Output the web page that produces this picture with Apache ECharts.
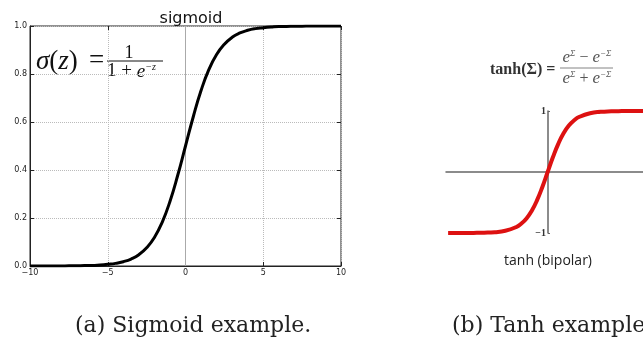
<!DOCTYPE html>
<html><head><meta charset="utf-8">
<script src="https://cdn.jsdelivr.net/npm/echarts@6/dist/echarts.min.js"></script>
<style>html,body{margin:0;padding:0;background:#fff}#c{width:643px;height:343px}</style>
</head><body><div id="c"></div>
<script>
// Sigmoid curve points
const sigX = [-10,-9.5,-9,-8.5,-8,-7.5,-7,-6.5,-6,-5.5,-5,-4.5,-4,-3.5,-3,-2.5,-2,-1.5,-1,-0.5,0,0.5,1,1.5,2,2.5,3,3.5,4,4.5,5,5.5,6,6.5,7,7.5,8,8.5,9,9.5,10];
const sigY = [0.000,0.000,0.000,0.000,0.000,0.001,0.001,0.002,0.002,0.004,0.007,0.011,0.018,0.029,0.047,0.076,0.119,0.182,0.269,0.378,0.500,0.622,0.731,0.818,0.881,0.924,0.953,0.971,0.982,0.989,0.993,0.996,0.998,0.998,0.999,0.999,1.000,1.000,1.000,1.000,1.000];
const sigXTicks = [-10,-5,0,5,10];
const sigYTicks = [0.0,0.2,0.4,0.6,0.8,1.0];
// Tanh curve points
const tanhX = [-4.7,-4.5,-4,-3.5,-3,-2.5,-2,-1.5,-1.25,-1,-0.75,-0.5,-0.25,0,0.25,0.5,0.75,1,1.25,1.5,2,2.5,3,3.5,4,4.5];
const tanhY = [-1.000,-1.000,-0.999,-0.998,-0.995,-0.987,-0.964,-0.905,-0.848,-0.762,-0.635,-0.462,-0.245,0,0.245,0.462,0.635,0.762,0.848,0.905,0.964,0.987,0.995,0.998,0.999,1.000];
const tanhYTicks = [-1,1];

const chart = echarts.init(document.getElementById('c'), null, {renderer:'canvas'});
const minus = v => String(v).replace('-', '\u2212');
const tickStyle = {show:true, inside:true, length:4, lineStyle:{color:'#222', width:1}};
const supRich = (size, sup, color) => ({
  e:{font:'italic ' + size + 'px "Liberation Serif"', fill:color, lineHeight:size},
  s:{font:'italic ' + sup + 'px "Liberation Serif"', fill:color, verticalAlign:'top', lineHeight:sup}
});
const option = {
  animation:false,
  backgroundColor:'#fff',
  title:{text:'sigmoid', left:186, top:6, textAlign:'center',
    textStyle:{fontFamily:'DejaVu Sans', fontSize:16, fontWeight:'normal', color:'#111'}},
  grid:[
    {left:30, top:26, width:311, height:240, show:true, borderColor:'#222', borderWidth:1, backgroundColor:'transparent', outerBoundsMode:'none'},
    {left:446, top:111, width:197, height:122, outerBoundsMode:'none'}
  ],
  xAxis:[
    {type:'value', gridIndex:0, min:-10, max:10, interval:5,
     axisLine:{show:true, onZero:false, lineStyle:{color:'#222'}}, axisTick:tickStyle,
     axisLabel:{fontSize:8, fontFamily:'DejaVu Sans', color:'#222', margin:3, formatter:minus, showMinLabel:true, showMaxLabel:true},
     splitLine:{show:true, lineStyle:{type:'dotted', color:'#bbb', width:1}}},
    {type:'value', gridIndex:0, position:'top', min:-10, max:10, interval:5,
     axisLine:{show:false, onZero:false}, axisTick:tickStyle, axisLabel:{show:false}, splitLine:{show:false}},
    {type:'value', gridIndex:1, min:-4.8, max:4.5,
     axisLine:{show:true, onZero:true, lineStyle:{color:'#666', width:1.5}},
     axisTick:{show:false}, axisLabel:{show:false}, splitLine:{show:false}}
  ],
  yAxis:[
    {type:'value', gridIndex:0, min:0, max:1, interval:0.2,
     axisLine:{show:true, onZero:false, lineStyle:{color:'#222'}}, axisTick:tickStyle,
     axisLabel:{fontSize:8, fontFamily:'DejaVu Sans', color:'#222', margin:3, formatter:v=>v.toFixed(1)},
     splitLine:{show:true, lineStyle:{type:'dotted', color:'#bbb', width:1}}},
    {type:'value', gridIndex:0, position:'right', min:0, max:1, interval:0.2,
     axisLine:{show:false, onZero:false}, axisTick:tickStyle, axisLabel:{show:false}, splitLine:{show:false}},
    {type:'value', gridIndex:1, min:-1, max:1, position:'left', offset:-102,
     axisLine:{show:true, onZero:false, lineStyle:{color:'#666', width:1.5}},
     axisTick:{show:true, inside:true, length:2, customValues:tanhYTicks, lineStyle:{color:'#666'}},
     axisLabel:{show:true, customValues:tanhYTicks, fontSize:10, fontFamily:'Liberation Serif', fontWeight:'bold', color:'#333', margin:2,
       formatter:v=>minus(v)},
     splitLine:{show:false}}
  ],
  series:[
    {type:'line', xAxisIndex:0, yAxisIndex:0, data:sigX.map((x,i)=>[x,sigY[i]]), smooth:true, showSymbol:false,
     lineStyle:{color:'#000', width:3}, z:3,
     markLine:{silent:true, symbol:'none', label:{show:false}, lineStyle:{color:'#aaa', type:'solid', width:1}, data:[{xAxis:0}], z:1}},
    {type:'line', xAxisIndex:2, yAxisIndex:2, data:tanhX.map((x,i)=>[x,tanhY[i]]), smooth:true, showSymbol:false,
     lineStyle:{color:'#dd1111', width:4}, z:3}
  ],
  graphic:[
    // sigmoid formula
    {type:'text', x:36, y:62, style:{text:'{i|\u03c3}({i|z})', font:'27px "Liberation Serif"', fill:'#111', verticalAlign:'middle',
      rich:{i:{font:'italic 27px "Liberation Serif"', fill:'#111'}}}},
    {type:'text', x:89, y:61, style:{text:'=', font:'27px "Liberation Serif"', fill:'#111', verticalAlign:'middle'}},
    {type:'text', x:129, y:53, style:{text:'1', font:'18px "Liberation Serif"', fill:'#111', align:'center', verticalAlign:'middle'}},
    {type:'line', shape:{x1:107, y1:61, x2:163, y2:61}, style:{stroke:'#111', lineWidth:1}},
    {type:'text', x:107, y:62, style:{text:'1 + {e|e}{s|\u2212z}', font:'19px "Liberation Serif"', fill:'#111', lineHeight:18,
      rich:supRich(19, 10, '#111')}},
    // tanh formula
    {type:'text', x:490, y:70, style:{text:'tanh(\u03a3) =', font:'bold 16px "Liberation Serif"', fill:'#333', verticalAlign:'middle'}},
    {type:'text', x:587, y:49, style:{text:'{e|e}{s|\u03a3} \u2212 {e|e}{s|\u2212\u03a3}', font:'16px "Liberation Serif"', fill:'#555', align:'center', lineHeight:16,
      rich:supRich(17, 9, '#555')}},
    {type:'line', shape:{x1:560, y1:68, x2:613, y2:68}, style:{stroke:'#666', lineWidth:0.8}},
    {type:'text', x:587, y:70, style:{text:'{e|e}{s|\u03a3} + {e|e}{s|\u2212\u03a3}', font:'16px "Liberation Serif"', fill:'#555', align:'center', lineHeight:16,
      rich:supRich(17, 9, '#555')}},
    // tanh label
    {type:'text', x:548, y:261, style:{text:'tanh (bipolar)', font:'14px "Open Sans"', fill:'#222', align:'center', verticalAlign:'middle'}},
    // captions
    {type:'text', x:75, y:326, style:{text:'(a) Sigmoid example.', font:'22px "DejaVu Serif"', fill:'#222', verticalAlign:'middle'}},
    {type:'text', x:452, y:326, style:{text:'(b) Tanh example.', font:'22px "DejaVu Serif"', fill:'#222', verticalAlign:'middle'}}
  ]
};
chart.setOption(option);
</script></body></html>
